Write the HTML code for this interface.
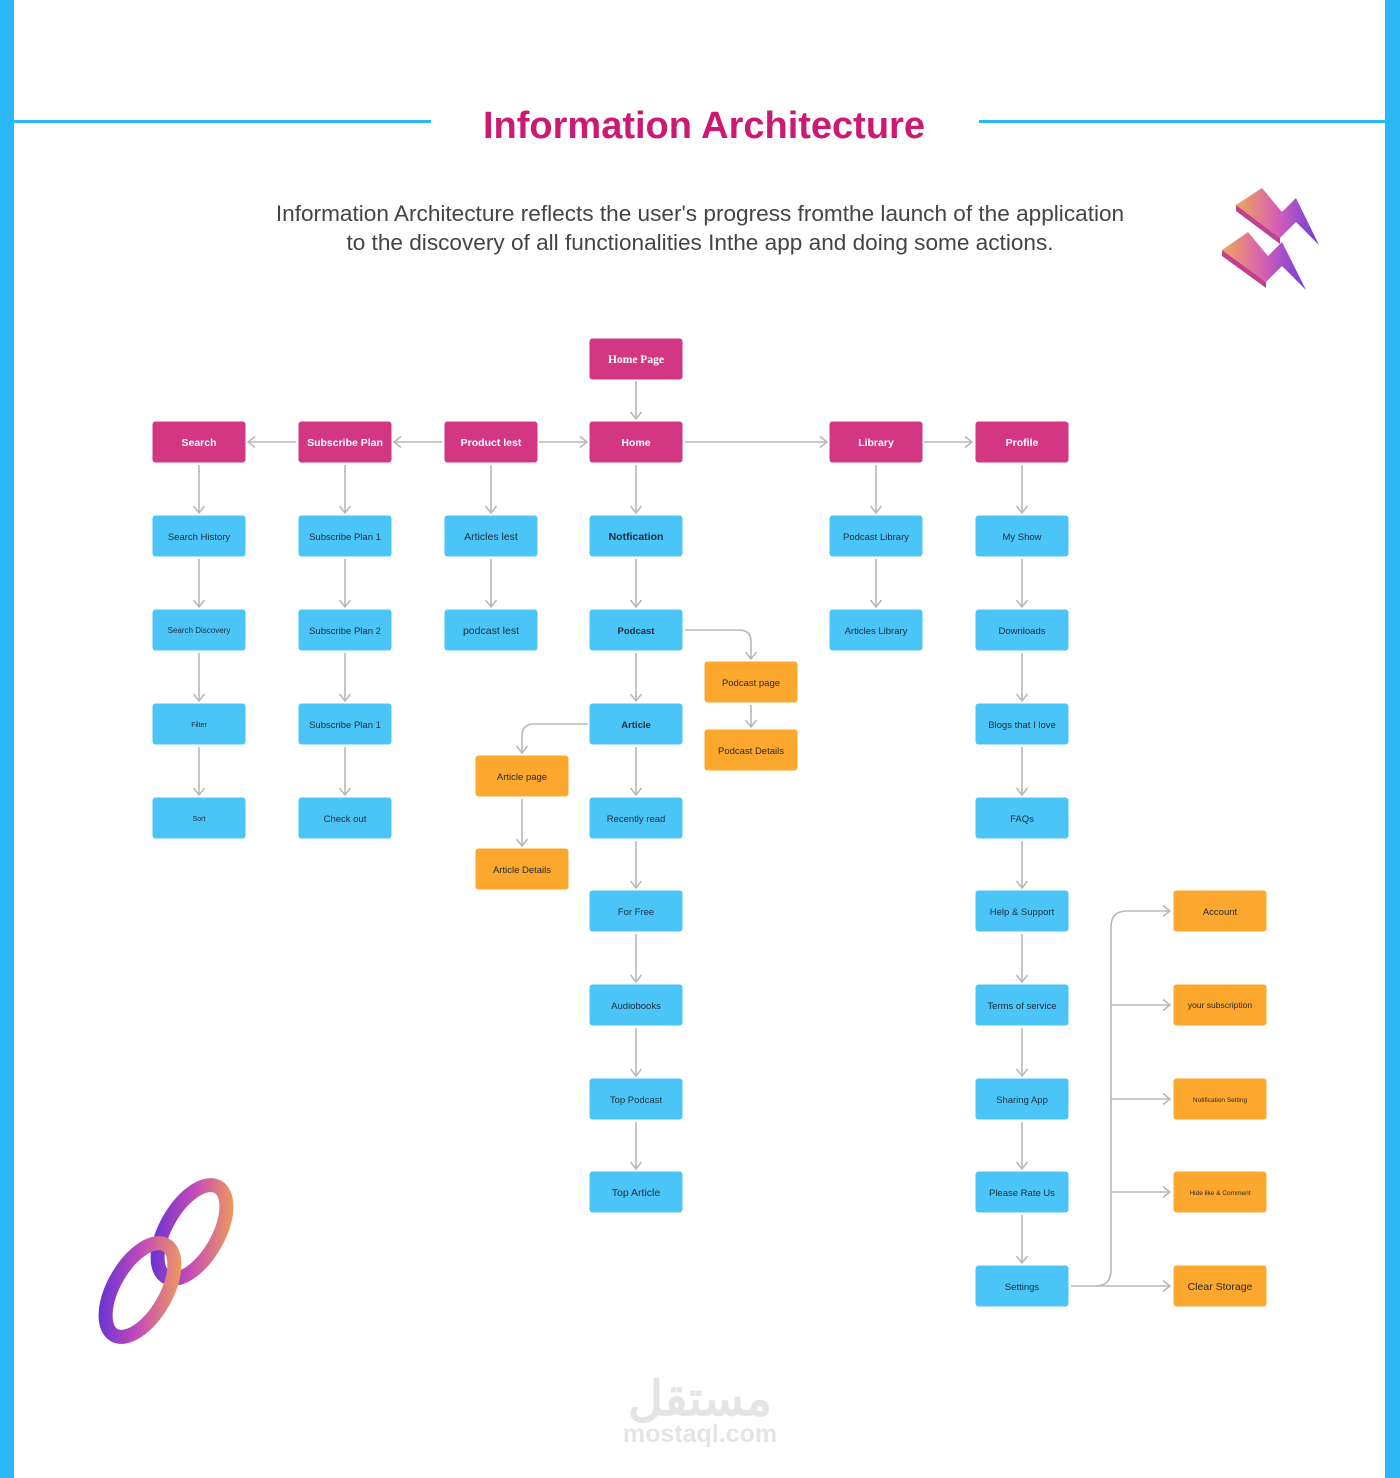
<!DOCTYPE html>
<html><head><meta charset="utf-8"><style>
html,body{margin:0;padding:0;background:#fff}
body{width:1400px;height:1478px;position:relative;overflow:hidden;font-family:"Liberation Sans",sans-serif}
</style></head><body>
<svg width="1400" height="1478" viewBox="0 0 1400 1478" xmlns="http://www.w3.org/2000/svg" style="position:absolute;left:0;top:0">
<defs>
<linearGradient id="g1" x1="0" y1="0" x2="1" y2="0"><stop offset="0" stop-color="#f0a65a"/><stop offset="0.5" stop-color="#d45fb5"/><stop offset="1" stop-color="#6a3de0"/></linearGradient>
<linearGradient id="g2" x1="1" y1="0" x2="0" y2="1"><stop offset="0" stop-color="#f4a650"/><stop offset="0.5" stop-color="#c44bb8"/><stop offset="1" stop-color="#5a2fd6"/></linearGradient>
<marker id="ah" markerWidth="12" markerHeight="12" refX="9" refY="6" orient="auto" markerUnits="userSpaceOnUse"><path d="M2 0.5 L9 6 L2 11.5" fill="none" stroke="#b8b8b8" stroke-width="1.6"/></marker>
</defs>
<rect x="0" y="0" width="14" height="1478" fill="#2bb8f7"/>
<rect x="1385" y="0" width="15" height="1478" fill="#2bb8f7"/>
<rect x="14" y="120" width="417" height="3" fill="#2bb8f7"/>
<rect x="979" y="120" width="406" height="3" fill="#2bb8f7"/>
<text x="704" y="138" text-anchor="middle" font-size="38" font-weight="bold" fill="#cc1a72" font-family="Liberation Sans,sans-serif">Information Architecture</text>
<text x="700" y="221" text-anchor="middle" font-size="22.6" fill="#444">Information Architecture reflects the user's progress fromthe launch of the application</text>
<text x="700" y="250" text-anchor="middle" font-size="22.6" fill="#444">to the discovery of all functionalities Inthe app and doing some actions.</text>

<!-- lightning icon -->
<path d="M1236 205 L1262 188 L1282 212 L1296 198 L1319 245 L1296 222 L1280 238 Z" fill="url(#g1)"/>
<path d="M1236 205 L1236 211 L1280 244 L1280 238 Z" fill="#c0408f"/>
<path d="M1222 250 L1248 232 L1268 256 L1282 242 L1306 290 L1282 266 L1266 282 Z" fill="url(#g1)"/>
<path d="M1222 250 L1222 256 L1266 288 L1266 282 Z" fill="#c0408f"/>

<!-- chain icon -->
<g fill="none" stroke-linecap="round">
<ellipse cx="192" cy="1232" rx="26" ry="52" transform="rotate(30 192 1232)" stroke="url(#g2)" stroke-width="14"/>
<ellipse cx="140" cy="1290" rx="26" ry="52" transform="rotate(30 140 1290)" stroke="url(#g2)" stroke-width="14"/>
</g>

<!-- connectors -->
<g stroke="#b8b8b8" stroke-width="1.6" fill="none" marker-end="url(#ah)">
<line x1="636" y1="381" x2="636" y2="419"/>
<line x1="296" y1="442" x2="248" y2="442"/>
<line x1="442" y1="442" x2="394" y2="442"/>
<line x1="539" y1="442" x2="587" y2="442"/>
<line x1="685" y1="442" x2="827" y2="442"/>
<line x1="924" y1="442" x2="972" y2="442"/>
<line x1="199" y1="465" x2="199" y2="513"/>
<line x1="199" y1="559" x2="199" y2="607"/>
<line x1="199" y1="653" x2="199" y2="701"/>
<line x1="199" y1="747" x2="199" y2="795"/>
<line x1="345" y1="465" x2="345" y2="513"/>
<line x1="345" y1="559" x2="345" y2="607"/>
<line x1="345" y1="653" x2="345" y2="701"/>
<line x1="345" y1="747" x2="345" y2="795"/>
<line x1="491" y1="465" x2="491" y2="513"/>
<line x1="491" y1="559" x2="491" y2="607"/>
<line x1="636" y1="465" x2="636" y2="513"/>
<line x1="636" y1="559" x2="636" y2="607"/>
<line x1="636" y1="653" x2="636" y2="701"/>
<line x1="636" y1="747" x2="636" y2="795"/>
<line x1="636" y1="841" x2="636" y2="888"/>
<line x1="636" y1="934" x2="636" y2="982"/>
<line x1="636" y1="1028" x2="636" y2="1076"/>
<line x1="636" y1="1122" x2="636" y2="1169"/>
<line x1="876" y1="465" x2="876" y2="513"/>
<line x1="876" y1="559" x2="876" y2="607"/>
<line x1="1022" y1="465" x2="1022" y2="513"/>
<line x1="1022" y1="559" x2="1022" y2="607"/>
<line x1="1022" y1="653" x2="1022" y2="701"/>
<line x1="1022" y1="747" x2="1022" y2="795"/>
<line x1="1022" y1="841" x2="1022" y2="888"/>
<line x1="1022" y1="934" x2="1022" y2="982"/>
<line x1="1022" y1="1028" x2="1022" y2="1076"/>
<line x1="1022" y1="1122" x2="1022" y2="1169"/>
<line x1="1022" y1="1215" x2="1022" y2="1263"/>
<path d="M685 630 H739 Q751 630 751 642 V659"/>
<line x1="751" y1="705" x2="751" y2="727"/>
<path d="M588 724 H534 Q522 724 522 736 V753"/>
<line x1="522" y1="799" x2="522" y2="846"/>
<line x1="1071" y1="1286" x2="1170" y2="1286"/>
<path d="M1095 1286 Q1111 1286 1111 1270 V927 Q1111 911 1127 911 H1170"/>
<line x1="1111" y1="1005" x2="1170" y2="1005"/>
<line x1="1111" y1="1099" x2="1170" y2="1099"/>
<line x1="1111" y1="1192" x2="1170" y2="1192"/>
</g>

<g fill="#d33682">
<rect x="589.5" y="338.5" width="93" height="41" rx="3"/>
<rect x="152.5" y="421.5" width="93" height="41" rx="3"/>
<rect x="298.5" y="421.5" width="93" height="41" rx="3"/>
<rect x="444.5" y="421.5" width="93" height="41" rx="3"/>
<rect x="589.5" y="421.5" width="93" height="41" rx="3"/>
<rect x="829.5" y="421.5" width="93" height="41" rx="3"/>
<rect x="975.5" y="421.5" width="93" height="41" rx="3"/>
</g>
<g fill="#fff" font-size="10.5" font-weight="bold" text-anchor="middle">
<text x="636" y="363" font-family="Liberation Serif,serif" font-size="11.5">Home Page</text>
<text x="199" y="446">Search</text>
<text x="345" y="446">Subscribe Plan</text>
<text x="491" y="446">Product lest</text>
<text x="636" y="446">Home</text>
<text x="876" y="446">Library</text>
<text x="1022" y="446">Profile</text>
</g>

<g fill="#4bc5f8">
<rect x="152.5" y="515.5" width="93" height="41" rx="3"/>
<rect x="152.5" y="609.5" width="93" height="41" rx="3"/>
<rect x="152.5" y="703.5" width="93" height="41" rx="3"/>
<rect x="152.5" y="797.5" width="93" height="41" rx="3"/>
<rect x="298.5" y="515.5" width="93" height="41" rx="3"/>
<rect x="298.5" y="609.5" width="93" height="41" rx="3"/>
<rect x="298.5" y="703.5" width="93" height="41" rx="3"/>
<rect x="298.5" y="797.5" width="93" height="41" rx="3"/>
<rect x="444.5" y="515.5" width="93" height="41" rx="3"/>
<rect x="444.5" y="609.5" width="93" height="41" rx="3"/>
<rect x="589.5" y="515.5" width="93" height="41" rx="3"/>
<rect x="589.5" y="609.5" width="93" height="41" rx="3"/>
<rect x="589.5" y="703.5" width="93" height="41" rx="3"/>
<rect x="589.5" y="797.5" width="93" height="41" rx="3"/>
<rect x="589.5" y="890.5" width="93" height="41" rx="3"/>
<rect x="589.5" y="984.5" width="93" height="41" rx="3"/>
<rect x="589.5" y="1078.5" width="93" height="41" rx="3"/>
<rect x="589.5" y="1171.5" width="93" height="41" rx="3"/>
<rect x="829.5" y="515.5" width="93" height="41" rx="3"/>
<rect x="829.5" y="609.5" width="93" height="41" rx="3"/>
<rect x="975.5" y="515.5" width="93" height="41" rx="3"/>
<rect x="975.5" y="609.5" width="93" height="41" rx="3"/>
<rect x="975.5" y="703.5" width="93" height="41" rx="3"/>
<rect x="975.5" y="797.5" width="93" height="41" rx="3"/>
<rect x="975.5" y="890.5" width="93" height="41" rx="3"/>
<rect x="975.5" y="984.5" width="93" height="41" rx="3"/>
<rect x="975.5" y="1078.5" width="93" height="41" rx="3"/>
<rect x="975.5" y="1171.5" width="93" height="41" rx="3"/>
<rect x="975.5" y="1265.5" width="93" height="41" rx="3"/>
</g>
<g fill="#1d2b3a" font-size="9.5" text-anchor="middle">
<text x="199" y="540">Search History</text>
<text x="199" y="633" font-size="8">Search Discovery</text>
<text x="199" y="727" font-size="7">Filter</text>
<text x="199" y="821" font-size="7">Sort</text>
<text x="345" y="540">Subscribe Plan 1</text>
<text x="345" y="634">Subscribe Plan 2</text>
<text x="345" y="728">Subscribe Plan 1</text>
<text x="345" y="822">Check out</text>
<text x="491" y="540" font-size="10.5">Articles lest</text>
<text x="491" y="634" font-size="10.5">podcast lest</text>
<text x="636" y="540" font-size="10.5" font-weight="bold">Notfication</text>
<text x="636" y="634" font-weight="bold">Podcast</text>
<text x="636" y="728" font-weight="bold">Article</text>
<text x="636" y="822">Recently read</text>
<text x="636" y="915">For Free</text>
<text x="636" y="1009">Audiobooks</text>
<text x="636" y="1103">Top Podcast</text>
<text x="636" y="1196" font-size="10.5">Top Article</text>
<text x="876" y="540">Podcast Library</text>
<text x="876" y="634">Articles Library</text>
<text x="1022" y="540">My Show</text>
<text x="1022" y="634">Downloads</text>
<text x="1022" y="728">Blogs that I love</text>
<text x="1022" y="822">FAQs</text>
<text x="1022" y="915">Help &amp; Support</text>
<text x="1022" y="1009">Terms of service</text>
<text x="1022" y="1103">Sharing App</text>
<text x="1022" y="1196">Please Rate Us</text>
<text x="1022" y="1290">Settings</text>
</g>

<g fill="#fca72d">
<rect x="704.5" y="661.5" width="93" height="41" rx="3"/>
<rect x="704.5" y="729.5" width="93" height="41" rx="3"/>
<rect x="475.5" y="755.5" width="93" height="41" rx="3"/>
<rect x="475.5" y="848.5" width="93" height="41" rx="3"/>
<rect x="1173.5" y="890.5" width="93" height="41" rx="3"/>
<rect x="1173.5" y="984.5" width="93" height="41" rx="3"/>
<rect x="1173.5" y="1078.5" width="93" height="41" rx="3"/>
<rect x="1173.5" y="1171.5" width="93" height="41" rx="3"/>
<rect x="1173.5" y="1265.5" width="93" height="41" rx="3"/>
</g>
<g fill="#2a2a2a" font-size="9.5" text-anchor="middle">
<text x="751" y="686">Podcast page</text>
<text x="751" y="754">Podcast  Details</text>
<text x="522" y="780">Article page</text>
<text x="522" y="873">Article Details</text>
<text x="1220" y="915">Account</text>
<text x="1220" y="1008" font-size="8.5">your subscription</text>
<text x="1220" y="1102" font-size="6.5">Notification Setting</text>
<text x="1220" y="1195" font-size="6.5">Hide like &amp; Comment</text>
<text x="1220" y="1290" font-size="10.5">Clear Storage</text>
</g>

<text x="700" y="1415" text-anchor="middle" font-size="48" font-weight="bold" fill="#e4e4e4" font-family="Liberation Sans,'Noto Sans CJK SC',sans-serif">مستقل</text>
<text x="700" y="1442" text-anchor="middle" font-size="25" font-weight="bold" fill="#e4e4e4">mostaql.com</text>
</svg>
</body></html>
